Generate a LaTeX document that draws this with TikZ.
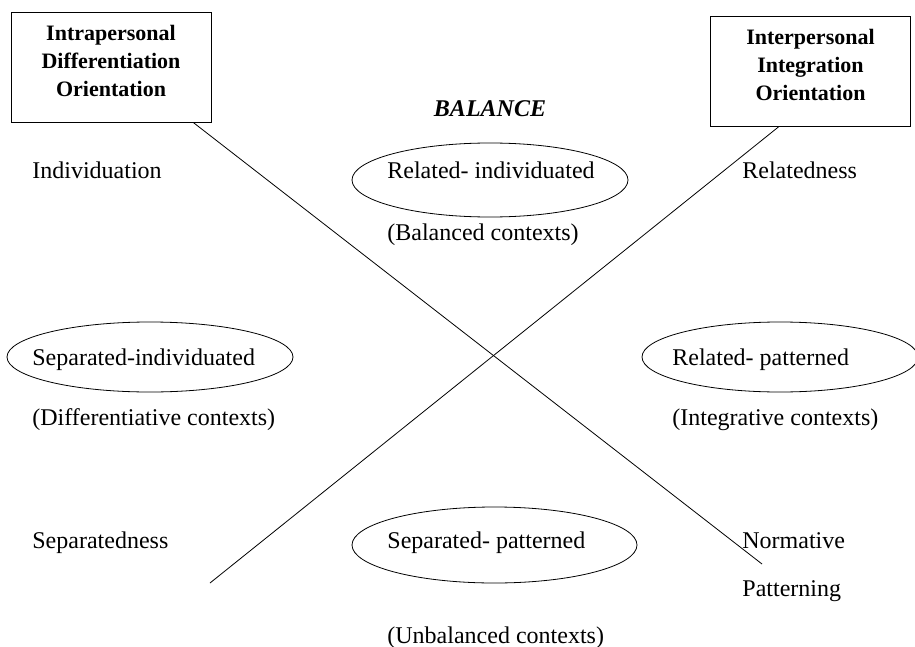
\documentclass[tikz,border=0pt]{standalone}
\usepackage{fontspec}
\setmainfont{Liberation Serif}
\begin{document}
\begin{tikzpicture}[x=0.5pt, y=-0.5pt,
  every node/.style={font=\fontsize{12}{14}\selectfont},
  head/.style={draw, align=center, minimum width=100pt, minimum height=55pt, inner sep=0pt, text depth=6.5pt, font=\fontsize{11}{14}\selectfont\bfseries},
  lbl/.style={anchor=west, inner sep=0pt, text height=8pt, text depth=2.5pt, yshift=-1.5pt}]
\useasboundingbox (0,0) rectangle (915,647);
\node[head] (intra) at (111,67) {Intrapersonal\\Differentiation\\Orientation};
\node[head] (inter) at (810.5,71.5) {Interpersonal\\Integration\\Orientation};
\node[font=\fontsize{12}{14}\selectfont\bfseries\itshape] (bal) at (490,109) {BALANCE};
% contexts
\draw (490,180) ellipse [x radius=69pt, y radius=18.5pt];
\draw (150,357) ellipse [x radius=71.5pt, y radius=17.5pt];
\draw (780,357) ellipse [x radius=69pt, y radius=17.5pt];
\draw (494.5,545) ellipse [x radius=71.25pt, y radius=19pt];
\node[lbl] (ri) at (387,170) {Related- individuated};
\node[lbl] (si) at (32,357) {Separated-individuated};
\node[lbl] (rp) at (672,357) {Related- patterned};
\node[lbl] (sp) at (387,540) {Separated- patterned};
\node[lbl] (indiv) at (32,170) {Individuation};
\node[lbl] (relat) at (742,170) {Relatedness};
\node[lbl] (separ) at (32,540) {Separatedness};
\node[lbl] (norm) at (742,540) {Normative};
\node[lbl] (patt) at (742,588) {Patterning};
\node[lbl] (diff) at (32,417) {(Differentiative contexts)};
\node[lbl] (integ) at (672,417) {(Integrative contexts)};
\node[lbl] (balc) at (387,232) {(Balanced contexts)};
\node[lbl] (unbal) at (387,635) {(Unbalanced contexts)};
\coordinate (end1) at (762,564);
\coordinate (end2) at (210,583);
\draw (intra.-34) -- (end1);
\draw (end2) -- (inter.-120);
\end{tikzpicture}
\end{document}
